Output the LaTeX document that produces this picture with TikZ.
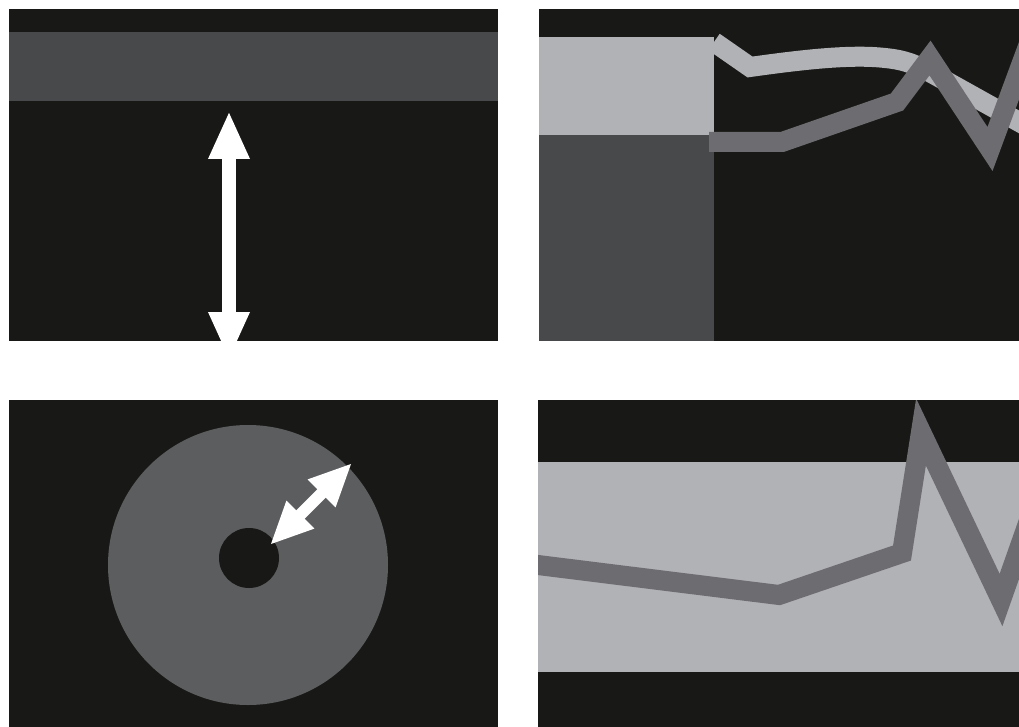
\documentclass[tikz,border=0pt]{standalone}
\usetikzlibrary{arrows.meta}
\definecolor{bgdark}{HTML}{181816}
\definecolor{band}{HTML}{48494B}
\definecolor{lightg}{HTML}{B1B2B5}
\definecolor{lineg}{HTML}{6D6C70}
\definecolor{discg}{HTML}{5C5D5F}
\tikzset{
  panelbg/.style={fill=bgdark},
  zigzag/.style={draw=lineg,line width=20pt,line join=miter,miter limit=20},
  smoothline/.style={draw=lightg,line width=20pt,line join=miter},
  whitearrow/.style={draw=white,line width=#1,line cap=butt},
}
\begin{document}
\begin{tikzpicture}[x=1pt,y=-1pt]
\useasboundingbox (0,0) rectangle (1019,727);
\fill[white] (0,0) rectangle (1019,727);
% ---------- top left ----------
\begin{scope}
\clip (9,9) rectangle (498,341);
\fill[panelbg] (9,9) rectangle (498,341);
\fill[band] (9,32) rectangle (498,101);
\coordinate (vtop) at (229,111);
\coordinate (vbot) at (229,360);
\draw[whitearrow=14pt,{Triangle[length=48pt,width=38pt]}-{Triangle[length=48pt,width=38pt]},white] (vtop) -- (vbot);
\end{scope}
% ---------- top right ----------
\begin{scope}
\clip (539,9) rectangle (1019,341);
\fill[panelbg] (539,9) rectangle (1019,341);
\fill[lightg] (539,37) rectangle (714,135);
\fill[band] (539,135) rectangle (714,341);
\draw[smoothline] (714,42) -- (750,67) .. controls (800,60) and (850,54) .. (885,58) .. controls (905,60) and (915,64) .. (935,75) -- (1030,128);
\draw[zigzag] (709,142) -- (782,142) -- (897,102) -- (930,58) -- (990,149) -- (1030,41);
\end{scope}
% ---------- bottom left ----------
\begin{scope}
\clip (9,400) rectangle (498,727);
\fill[panelbg] (9,400) rectangle (498,727);
\fill[discg] (248,565) circle[radius=140];
\fill[bgdark] (249,558) circle[radius=30];
\coordinate (din) at (270,545);
\coordinate (dout) at (352,463);
\draw[whitearrow=12pt,{Triangle[length=43pt,width=36pt]}-{Triangle[length=43pt,width=36pt]},white] (din) -- (dout);
\end{scope}
% ---------- bottom right ----------
\begin{scope}
\clip (538,400) rectangle (1019,727);
\fill[panelbg] (538,400) rectangle (1019,727);
\fill[lightg] (538,462) rectangle (1019,672);
\draw[zigzag] (530,564) -- (779,595) -- (902,553) -- (921,432) -- (1001,600) -- (1032,512);
\end{scope}
\end{tikzpicture}
\end{document}
